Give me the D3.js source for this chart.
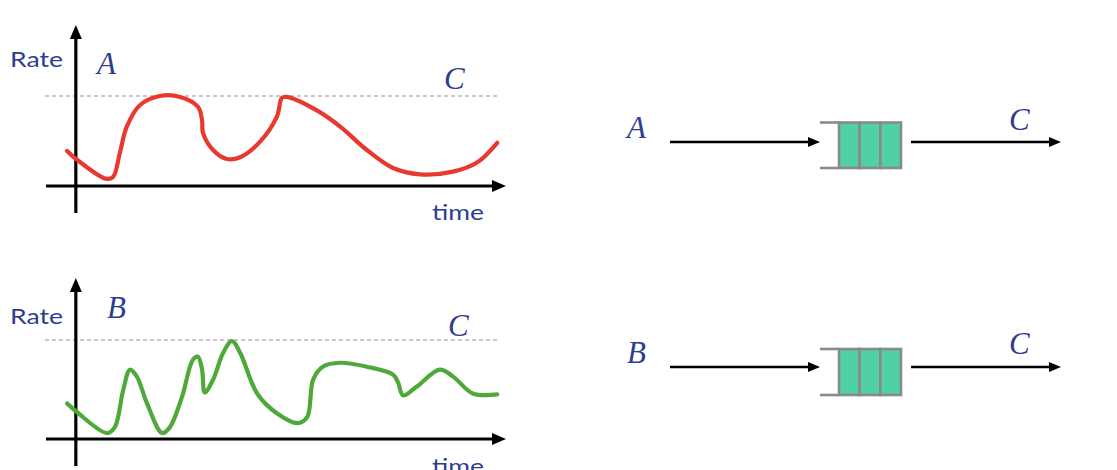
<!DOCTYPE html>
<html><head><meta charset="utf-8">
<script src="https://cdn.jsdelivr.net/npm/d3@7"></script>
<style>body{margin:0;background:#fff}svg{display:block}</style>
</head><body>
<svg id="c" width="1117" height="470"></svg>
<script>
// ---- data ----
const timeA = [-1.9,0.3,6.6,8.1,9.6,11.1,14.0,18.3,22.7,26.6,27.5,27.7,29.9,32.9,35.8,40.1,43.8,44.9,46.0,52.5,57.6,63.4,69.1,75.0,82.2,87.4,91.8];
const rateA = [0.39,0.29,0.08,0.10,0.37,0.66,0.90,1.00,0.99,0.88,0.73,0.59,0.40,0.30,0.32,0.49,0.77,0.98,0.99,0.84,0.66,0.40,0.20,0.13,0.16,0.26,0.48];
const timeB = [-1.9,0.3,6.8,8.5,10.3,11.8,13.3,15.5,18.8,20.5,23.1,25.5,26.6,27.5,28.1,29.9,32.1,34.0,35.8,39.5,43.8,48.4,50.4,51.7,53.8,57.6,63.4,69.1,70.2,71.3,74.3,79.3,82.2,86.5,91.8];
const rateB = [0.36,0.27,0.06,0.12,0.49,0.70,0.63,0.36,0.06,0.12,0.42,0.80,0.83,0.70,0.47,0.60,0.87,0.99,0.87,0.46,0.26,0.16,0.22,0.60,0.73,0.77,0.73,0.65,0.57,0.44,0.53,0.70,0.63,0.46,0.45];
const capacity = 1.0;          // C
const sources = ["A", "B"];
const yLabel = "Rate", xLabel = "time", capLabel = "C";
const queueSlots = [1, 2, 3];

// ---- styling ----
const txtBlue = "#2e3d8f";
const lineColors = {A: "#e8392f", B: "#4fa83a"};
const svg = d3.select("#c");

const x = d3.scaleLinear().domain([-6.5, 93.5]).range([46, 505]);

const panels = [
  {id: "A", t: timeA, r: rateA, y0: 186, yC: 96, yTop: 25, yBot: 213,
   rateBase: 67, letterBase: 74, letterX: 97, cBase: 89, cX: 444, timeBase: 220,
   diag: {arrowY: 142, qTop: 122.5, qBot: 168, lblBase: 138, cBase: 130}},
  {id: "B", t: timeB, r: rateB, y0: 439, yC: 340, yTop: 278, yBot: 466,
   rateBase: 324, letterBase: 318, letterX: 107, cBase: 336, cX: 448, timeBase: 474,
   diag: {arrowY: 367, qTop: 349, qBot: 395, lblBase: 363, cBase: 354}}
];

function arrowHead(g, tipX, tipY, dir, len, half) {
  let pts;
  if (dir === "right") pts = [[tipX, tipY], [tipX - len, tipY - half], [tipX - len, tipY + half]];
  else pts = [[tipX, tipY], [tipX - half, tipY + len], [tipX + half, tipY + len]];
  g.append("polygon").attr("points", pts.map(p => p.join(",")).join(" ")).attr("fill", "#000");
}

function italic(g, xx, yy, s) {
  return g.append("text").attr("x", xx).attr("y", yy).text(s)
    .attr("font-family", "'Liberation Serif', serif").attr("font-style", "italic")
    .attr("font-size", 31).attr("fill", txtBlue);
}
function sans(g, xx, yy, s, w) {
  return g.append("text").attr("x", xx).attr("y", yy).text(s)
    .attr("font-family", "Lato, 'Open Sans', sans-serif").attr("font-size", 22)
    .attr("textLength", w).attr("lengthAdjust", "spacingAndGlyphs").attr("fill", txtBlue);
}

panels.forEach(p => {
  const y = d3.scaleLinear().domain([0, capacity]).range([p.y0, p.yC]);
  const g = svg.append("g");
  const xOrigin = x(0);

  // capacity dashed line
  g.append("line").attr("x1", 45).attr("x2", 498).attr("y1", y(capacity)).attr("y2", y(capacity))
    .attr("stroke", "#b8b8b8").attr("stroke-width", 1.3).attr("stroke-dasharray", "4,3");

  // axes
  g.append("line").attr("x1", 46).attr("x2", 494).attr("y1", y(0)).attr("y2", y(0))
    .attr("stroke", "#000").attr("stroke-width", 3.2);
  arrowHead(g, 506, y(0), "right", 14, 6);
  g.append("line").attr("x1", xOrigin).attr("x2", xOrigin).attr("y1", p.yBot).attr("y2", p.yTop + 12)
    .attr("stroke", "#000").attr("stroke-width", 3.2);
  arrowHead(g, xOrigin, p.yTop, "up", 14, 6);

  // series line
  const pts = p.t.map((t, i) => [x(t), y(p.r[i])]);
  g.append("path").attr("d", d3.line().curve(d3.curveCatmullRom.alpha(0.5))(pts))
    .attr("fill", "none").attr("stroke", lineColors[p.id]).attr("stroke-width", 4.2)
    .attr("stroke-linecap", "round").attr("stroke-linejoin", "round");

  // texts
  sans(g, 10, p.rateBase, yLabel, 53);
  sans(g, 432, p.timeBase, xLabel, 52);
  italic(g, p.letterX, p.letterBase, p.id);
  italic(g, p.cX, p.cBase, capLabel);

  // queue diagram
  const d = p.diag;
  const dg = svg.append("g");
  italic(dg, 627, d.lblBase, p.id);
  italic(dg, 1009, d.cBase, capLabel);
  dg.append("line").attr("x1", 670).attr("x2", 810).attr("y1", d.arrowY).attr("y2", d.arrowY)
    .attr("stroke", "#000").attr("stroke-width", 2.6);
  arrowHead(dg, 820, d.arrowY, "right", 12, 5);
  dg.append("line").attr("x1", 911).attr("x2", 1050).attr("y1", d.arrowY).attr("y2", d.arrowY)
    .attr("stroke", "#000").attr("stroke-width", 2.6);
  arrowHead(dg, 1061, d.arrowY, "right", 12, 5);

  const qx = d3.scaleBand().domain(queueSlots).range([839, 901]).paddingInner(0);
  queueSlots.forEach(s => {
    dg.append("rect").attr("x", qx(s)).attr("y", d.qTop).attr("width", qx.bandwidth()).attr("height", d.qBot - d.qTop)
      .attr("fill", "#4fd1a4").attr("stroke", "#8a8a8a").attr("stroke-width", 2.6);
  });
  dg.append("line").attr("x1", 820).attr("x2", 839).attr("y1", d.qTop).attr("y2", d.qTop)
    .attr("stroke", "#8a8a8a").attr("stroke-width", 2.6);
  dg.append("line").attr("x1", 820).attr("x2", 839).attr("y1", d.qBot).attr("y2", d.qBot)
    .attr("stroke", "#8a8a8a").attr("stroke-width", 2.6);
});
</script>
</body></html>
